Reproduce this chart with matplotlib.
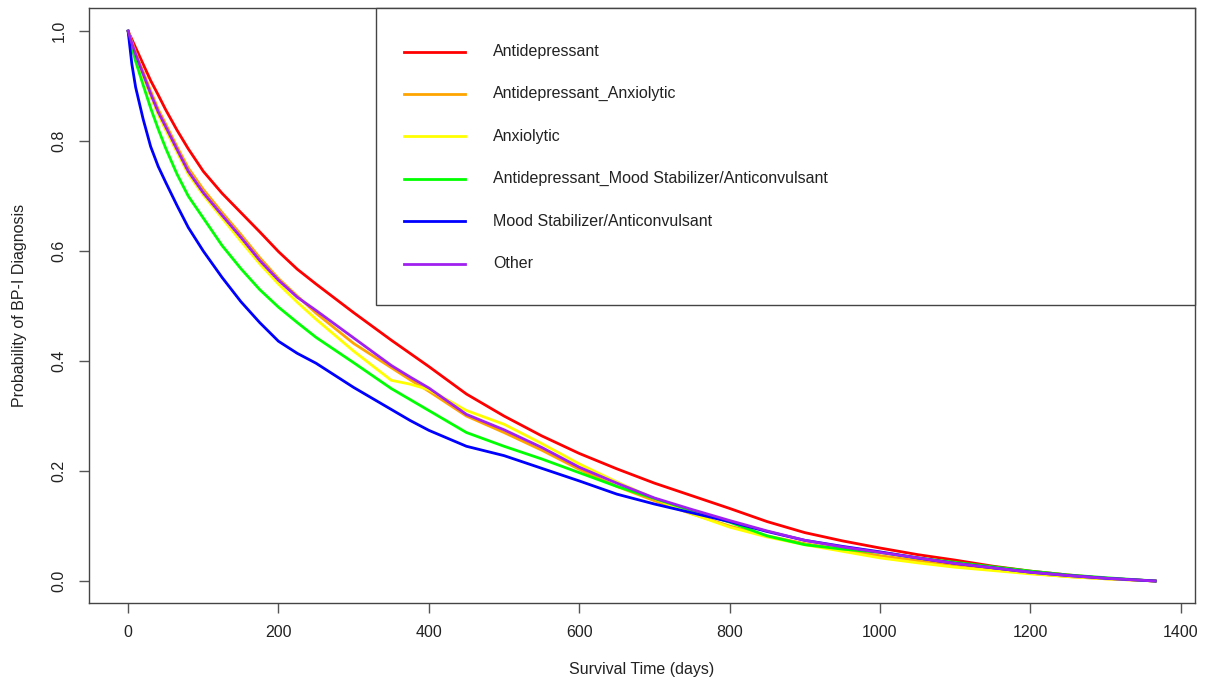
import matplotlib
matplotlib.use("Agg")
import matplotlib.pyplot as plt
from matplotlib.lines import Line2D
from matplotlib.patches import Rectangle

plt.rcParams['font.family'] = ['Liberation Sans', 'DejaVu Sans']

# Survival time grid (days)
days = [0, 5, 10, 20, 30, 40, 50, 65, 80, 100, 125, 150, 175, 200, 225, 250,
        300, 350, 375, 400, 450, 500, 550, 600, 650, 700, 750, 800, 850, 900,
        950, 1000, 1050, 1100, 1150, 1200, 1250, 1300, 1366]

antidepressant = [1.0, 0.985, 0.970, 0.940, 0.910, 0.884, 0.857, 0.820, 0.786,
                  0.745, 0.705, 0.670, 0.635, 0.599, 0.567, 0.540,
                  0.488, 0.438, 0.414, 0.390, 0.340, 0.300, 0.264, 0.232, 0.204,
                  0.178, 0.155, 0.132, 0.108, 0.088, 0.073, 0.060, 0.048, 0.038,
                  0.027, 0.018, 0.011, 0.005, 0.0]
antidep_anxiolytic = [1.0, 0.980, 0.961, 0.926, 0.891, 0.858, 0.831, 0.790, 0.751,
                      0.712, 0.670, 0.630, 0.588, 0.550, 0.518, 0.487,
                      0.432, 0.388, 0.366, 0.345, 0.300, 0.270, 0.238, 0.203, 0.172,
                      0.146, 0.122, 0.100, 0.082, 0.068, 0.057, 0.046, 0.037, 0.029,
                      0.021, 0.014, 0.008, 0.004, 0.0]
anxiolytic = [1.0, 0.977, 0.955, 0.918, 0.882, 0.848, 0.820, 0.780, 0.740,
              0.702, 0.660, 0.618, 0.577, 0.540, 0.507, 0.476,
              0.418, 0.365, 0.358, 0.348, 0.310, 0.285, 0.250, 0.213, 0.180,
              0.150, 0.122, 0.098, 0.080, 0.066, 0.054, 0.042, 0.033, 0.025,
              0.019, 0.013, 0.008, 0.004, 0.0]
antidep_mood = [1.0, 0.970, 0.945, 0.902, 0.860, 0.822, 0.787, 0.740, 0.700,
                0.660, 0.610, 0.568, 0.530, 0.498, 0.470, 0.443,
                0.397, 0.350, 0.330, 0.310, 0.270, 0.245, 0.222, 0.197, 0.172,
                0.150, 0.128, 0.107, 0.082, 0.066, 0.058, 0.052, 0.042, 0.034,
                0.026, 0.018, 0.011, 0.006, 0.0]
mood_stabilizer = [1.0, 0.940, 0.898, 0.840, 0.790, 0.754, 0.725, 0.683, 0.643,
                   0.600, 0.552, 0.508, 0.470, 0.436, 0.414, 0.396,
                   0.352, 0.312, 0.292, 0.274, 0.245, 0.228, 0.205, 0.182, 0.158,
                   0.140, 0.124, 0.108, 0.090, 0.074, 0.063, 0.053, 0.042, 0.032,
                   0.024, 0.016, 0.010, 0.005, 0.0]
other = [1.0, 0.978, 0.958, 0.922, 0.886, 0.853, 0.826, 0.785, 0.745,
         0.706, 0.665, 0.625, 0.583, 0.547, 0.516, 0.492,
         0.442, 0.392, 0.371, 0.351, 0.303, 0.275, 0.243, 0.207, 0.178,
         0.151, 0.130, 0.110, 0.091, 0.074, 0.062, 0.052, 0.042, 0.032,
         0.024, 0.016, 0.010, 0.005, 0.0]

labels = ["Antidepressant", "Antidepressant_Anxiolytic", "Anxiolytic",
          "Antidepressant_Mood Stabilizer/Anticonvulsant",
          "Mood Stabilizer/Anticonvulsant", "Other"]
series = [antidepressant, antidep_anxiolytic, anxiolytic, antidep_mood,
          mood_stabilizer, other]
colors = ["#FF0000", "#FFA500", "#FFFF00", "#00FF00", "#0000FF", "#A020F0"]

x_ticks = [0, 200, 400, 600, 800, 1000, 1200, 1400]
y_ticks = [0.0, 0.2, 0.4, 0.6, 0.8, 1.0]

fig = plt.figure(figsize=(12.06, 6.81), dpi=100)
ax = fig.add_axes([89/1206, 1 - 603/681, (1195 - 89)/1206, (603 - 8)/681])

for vals, col in zip(series, colors):
    ax.plot(days, vals, color=col, lw=2.0, solid_joinstyle='round')

ax.set_xlim(-52, 1419)
ax.set_ylim(-0.04, 1.042)
ax.set_xticks(x_ticks)
ax.set_xticklabels([str(v) for v in x_ticks])
ax.set_yticks(y_ticks)
ax.set_yticklabels([f"{v:.1f}" for v in y_ticks], rotation=90, va='center')

txtcol = '#222222'
for s in ax.spines.values():
    s.set_color('#444444')
    s.set_linewidth(1.0)
ax.tick_params(axis='both', direction='out', length=7, width=1.0,
               color='#555555', labelsize=11.5, labelcolor=txtcol, pad=9)

ax.set_xlabel("Survival Time (days)", fontsize=11.5, color=txtcol, labelpad=15.5)
ax.set_ylabel("Probability of BP-I Diagnosis", fontsize=11.5, color=txtcol,
              labelpad=18)

# Legend box (top right, as in the reference)
axw, axh = 1106.0, 595.0
lx0 = (376 - 89) / axw
ly0 = (603 - 305) / axh
ax.add_patch(Rectangle((lx0, ly0), 1 - lx0, 1 - ly0, transform=ax.transAxes,
                       facecolor='white', edgecolor='#444444', lw=1.0,
                       zorder=5, clip_on=False))
for i, (lab, col) in enumerate(zip(labels, colors)):
    ypx = 51.5 + 42.4 * i
    yf = (603 - ypx) / axh
    ax.add_line(Line2D([(404 - 89) / axw, (465 - 89) / axw], [yf, yf],
                       transform=ax.transAxes, color=col, lw=2.0, zorder=6))
    ax.text((493 - 89) / axw, yf, lab, transform=ax.transAxes, va='center',
            ha='left', fontsize=11.5, color=txtcol, zorder=6)

fig.savefig("out.png", dpi=100)
